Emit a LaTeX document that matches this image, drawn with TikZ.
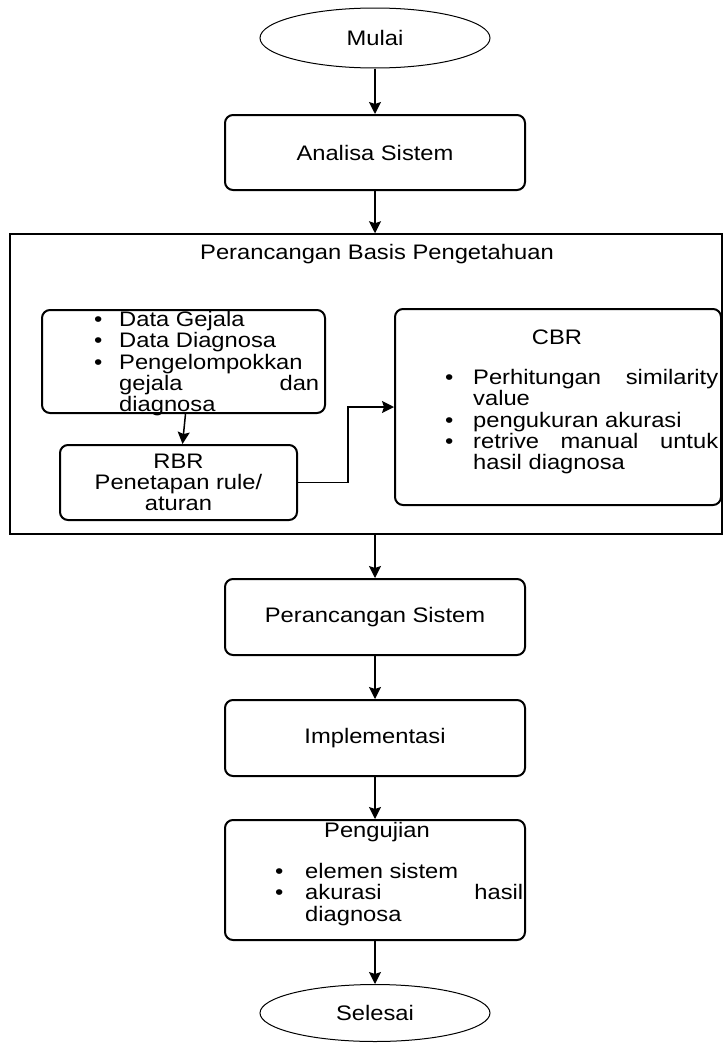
\documentclass[tikz,border=0pt]{standalone}
\usepackage{fontspec}
\setmainfont{Liberation Sans}[FakeStretch=1.13]
\usetikzlibrary{arrows.meta,shapes.geometric}
\newlength{\du}
\setlength{\du}{1pt}
\newcommand{\itm}[2][25\du]{\makebox[#1][l]{\textbullet}#2}
\newcommand{\cnt}[2][25\du]{\hspace*{#1}#2}

\begin{document}
\begin{tikzpicture}[
  font=\fontsize{21}{21.3}\selectfont,
  term/.style={draw, ellipse, line width=1\du, minimum width=230\du, minimum height=60\du, inner sep=0pt},
  proc/.style={draw, rounded corners=8\du, line width=2\du, minimum width=300\du, minimum height=75\du, inner sep=0pt},
  sub/.style={draw, rounded corners=8\du, line width=2\du, inner sep=0pt},
  txt/.style={inner sep=0pt, align=left},
  arr/.style={line width=1.5\du, -{Stealth[length=12pt,width=12pt,inset=2pt]}}
]
\pgftransformxscale{1.000000}
\pgftransformyscale{-1.000000}
\useasboundingbox (0\du,0\du) rectangle (726\du,1044\du);
% start
\node[term] (mulai) at (375\du,38\du) {Mulai};
\node[proc] (analisa) at (375\du,152.5\du) {Analisa Sistem};
% knowledge base container
\node[draw, line width=1.5\du, minimum width=712\du, minimum height=300\du, inner sep=0pt] (kb) at (366\du,384\du) {};
\node[inner sep=0pt] (kbtitle) at (377\du,254\du) {Perancangan Basis Pengetahuan};
\node[sub, minimum width=283\du, minimum height=103\du] (data) at (183.5\du,361.5\du) {};
\node[txt, anchor=north west] (datatxt) at (94\du,311\du) {\itm{Data Gejala}\\ \itm{Data Diagnosa}\\ \itm{Pengelompokkan}\\ \cnt{\makebox[200\du][s]{gejala dan}}\\ \cnt{diagnosa}};
\node[sub, minimum width=237\du, minimum height=75\du, align=center] (rbr) at (178.5\du,482.5\du) {RBR\\Penetapan rule/\\aturan};
\node[sub, minimum width=326\du, minimum height=196\du] (cbr) at (558\du,407\du) {};
\node[inner sep=0pt] (cbrtitle) at (557\du,337\du) {CBR};
\node[txt, anchor=north west] (cbrtxt) at (445\du,369\du) {\itm[28\du]{\makebox[245\du][s]{Perhitungan similarity}}\\ \cnt[28\du]{value}\\ \itm[28\du]{pengukuran akurasi}\\ \itm[28\du]{\makebox[245\du][s]{retrive manual untuk}}\\ \cnt[28\du]{hasil diagnosa}};
% rest of the flow
\node[proc, minimum height=76\du] (ps) at (375\du,617\du) {Perancangan Sistem};
\node[proc, minimum height=76\du] (impl) at (375\du,738\du) {Implementasi};
\node[proc, minimum height=120\du] (uji) at (375\du,880\du) {};
\node[inner sep=0pt] (ujititle) at (377\du,832\du) {Pengujian};
\node[txt, anchor=north west] (ujitxt) at (275\du,863\du) {\itm[30\du]{elemen sistem}\\ \itm[30\du]{\makebox[218\du][s]{akurasi hasil}}\\ \cnt[30\du]{diagnosa}};
\node[term, minimum height=57\du] (selesai) at (375\du,1013\du) {Selesai};
% arrows
\draw[arr] (mulai.south) -- (analisa.north);
\draw[arr] (analisa.south) -- (analisa.south |- kb.north);
\draw[arr] (kb.south -| ps.north) -- (ps.north);
\draw[arr] (ps.south) -- (impl.north);
\draw[arr] (impl.south) -- (uji.north);
\draw[arr] (uji.south) -- (selesai.north);
\draw[arr] ([xshift=2\du]data.south) -- ([xshift=4\du]rbr.north);
\draw[arr] (rbr.east) -- ++(50\du,0) |- (cbr.west);
\end{tikzpicture}
\end{document}
